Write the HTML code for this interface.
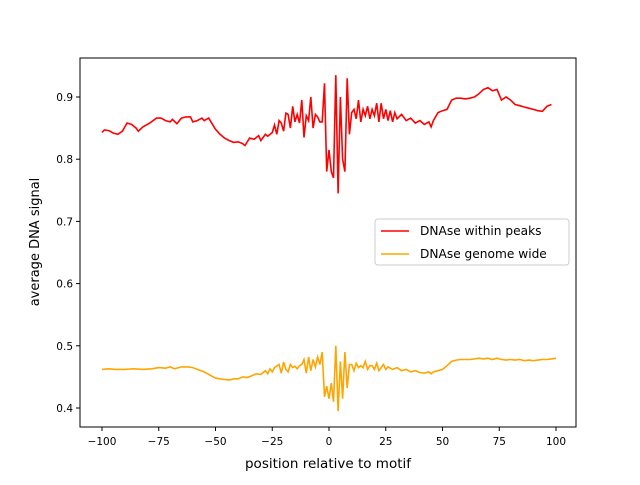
<!DOCTYPE html>
<html><head><meta charset="utf-8"><style>
body{margin:0;background:#fff;}
svg{font-family:"DejaVu Sans","Liberation Sans",sans-serif;}
</style></head><body>
<svg id="chart" width="640" height="480" viewBox="0 0 640 480" xmlns="http://www.w3.org/2000/svg">
<rect width="640" height="480" fill="#fff"/>
<g id="plot"></g>
<rect x="80" y="58" width="496" height="369" fill="none" stroke="#000" stroke-width="1"/>
<g id="xticks"></g><g id="yticks"></g>
<text x="328" y="468" font-size="13.5" text-anchor="middle">position relative to motif</text>
<text transform="translate(39,242) rotate(-90)" font-size="13" text-anchor="middle">average DNA signal</text>
<g>
<rect x="375" y="219" width="194" height="46" rx="3" fill="#fff" stroke="#ccc"/>
<line x1="381" y1="231" x2="409" y2="231" stroke="#ff0000" stroke-width="1.6"/>
<text x="420" y="235" font-size="12.2">DNAse within peaks</text>
<line x1="381" y1="254" x2="409" y2="254" stroke="#ffa500" stroke-width="1.6"/>
<text x="420" y="258" font-size="12.2">DNAse genome wide</text>
</g>
</svg>
<script>
const redX=[-100,-99,-97,-95,-93,-91,-89,-87,-85,-84,-82,-79,-76,-74,-72,-70,-69,-67,-65,-63,-61,-60,-58,-56,-55,-53,-52,-50,-48,-46,-44,-42,-40,-38,-37,-35,-33,-31,-30,-28,-27,-25,-24,-23,-22,-21,-20,-19,-18,-17,-16,-15,-14,-13,-12,-11,-10,-9,-8,-7,-6,-5,-4,-3,-2,-1,0,1,2,3,4,5,6,7,8,9,10,11,12,13,14,15,16,17,18,19,20,21,22,23,24,25,26,27,28,29,30,32,34,36,38,40,42,44,45,46,48,50,52,54,56,58,60,62,64,66,68,70,72,74,76,78,80,82,84,86,88,90,92,94,96,98,100];
const redY=[.843,.847,.846,.842,.840,.845,.858,.856,.850,.845,.852,.858,.866,.866,.862,.860,.864,.857,.866,.868,.868,.860,.862,.866,.862,.866,.860,.848,.840,.834,.830,.827,.828,.825,.822,.834,.832,.838,.830,.840,.837,.843,.855,.840,.862,.858,.845,.874,.872,.850,.885,.860,.872,.858,.895,.835,.870,.862,.900,.850,.872,.868,.860,.860,.922,.780,.815,.780,.770,.935,.745,.900,.800,.780,.930,.840,.875,.880,.865,.895,.860,.880,.870,.885,.865,.880,.870,.890,.860,.890,.865,.880,.862,.878,.860,.875,.865,.872,.862,.866,.858,.862,.856,.860,.852,.862,.875,.878,.880,.895,.898,.898,.897,.898,.900,.905,.912,.915,.910,.912,.895,.900,.895,.888,.886,.884,.882,.880,.878,.877,.885,.888];
const orX=[-100,-97,-94,-90,-86,-82,-78,-75,-72,-70,-68,-65,-62,-60,-58,-55,-52,-50,-48,-46,-44,-42,-40,-38,-36,-34,-32,-30,-28,-27,-26,-25,-24,-22,-21,-20,-19,-18,-17,-16,-15,-14,-13,-12,-11,-10,-9,-8,-7,-6,-5,-4,-3,-2,-1,0,1,2,3,4,5,6,7,8,9,10,11,12,13,14,15,16,17,18,19,20,21,22,23,24,25,26,28,30,32,34,36,38,40,42,44,45,46,48,50,52,54,56,58,60,62,64,66,68,70,72,74,76,78,80,82,84,86,88,90,92,94,96,98,100];
const orY=[.462,.463,.462,.462,.463,.462,.463,.465,.464,.466,.463,.466,.466,.465,.462,.458,.452,.448,.447,.446,.445,.447,.447,.450,.449,.452,.455,.454,.460,.455,.463,.458,.465,.470,.456,.474,.462,.458,.470,.465,.467,.463,.468,.470,.478,.456,.482,.460,.478,.466,.482,.470,.490,.418,.435,.415,.440,.410,.500,.395,.475,.415,.490,.432,.470,.470,.460,.472,.465,.468,.465,.475,.462,.468,.468,.462,.472,.460,.465,.470,.462,.466,.462,.465,.460,.462,.458,.460,.457,.456,.458,.455,.458,.460,.462,.468,.475,.477,.478,.478,.478,.479,.480,.479,.480,.478,.480,.478,.477,.478,.477,.478,.476,.477,.476,.477,.478,.478,.479,.480];
const xTicks=[-100,-75,-50,-25,0,25,50,75,100];
const yTicks=[0.4,0.5,0.6,0.7,0.8,0.9];
const xs=v=>102+(v+100)*2.27;
const ys=v=>97+(0.9-v)*622;
const NS="http://www.w3.org/2000/svg";
function pathFor(X,Y){return X.map((x,i)=>(i?'L':'M')+xs(x).toFixed(1)+','+ys(Y[i]).toFixed(1)).join('');}
const plot=document.getElementById('plot');
const p1=document.createElementNS(NS,'path');
p1.setAttribute('d',pathFor(redX,redY));p1.setAttribute('fill','none');p1.setAttribute('stroke','#ff0000');p1.setAttribute('stroke-width','1.6');


plot.appendChild(p1);
const p2=document.createElementNS(NS,'path');
p2.setAttribute('d',pathFor(orX,orY));p2.setAttribute('fill','none');p2.setAttribute('stroke','#ffa500');p2.setAttribute('stroke-width','1.6');


plot.appendChild(p2);
const xg=document.getElementById('xticks');
xTicks.forEach(t=>{
 const l=document.createElementNS(NS,'line');
 l.setAttribute('x1',xs(t));l.setAttribute('x2',xs(t));l.setAttribute('y1',427);l.setAttribute('y2',431);l.setAttribute('stroke','#000');
 
 
 xg.appendChild(l);
 const tx=document.createElementNS(NS,'text');
 tx.setAttribute('x',xs(t));tx.setAttribute('y',445);tx.setAttribute('font-size','10.5');tx.setAttribute('text-anchor','middle');
 tx.textContent=(t<0?'\u2212'+(-t):t);
 
 
 xg.appendChild(tx);
});
const yg=document.getElementById('yticks');
yTicks.forEach(t=>{
 const l=document.createElementNS(NS,'line');
 l.setAttribute('x1',76);l.setAttribute('x2',80);l.setAttribute('y1',ys(t));l.setAttribute('y2',ys(t));l.setAttribute('stroke','#000');
 
 
 yg.appendChild(l);
 const tx=document.createElementNS(NS,'text');
 tx.setAttribute('x',73);tx.setAttribute('y',ys(t)+4);tx.setAttribute('font-size','10.5');tx.setAttribute('text-anchor','end');
 tx.textContent=t.toFixed(1);
 
 
 yg.appendChild(tx);
});
</script>
</body></html>
